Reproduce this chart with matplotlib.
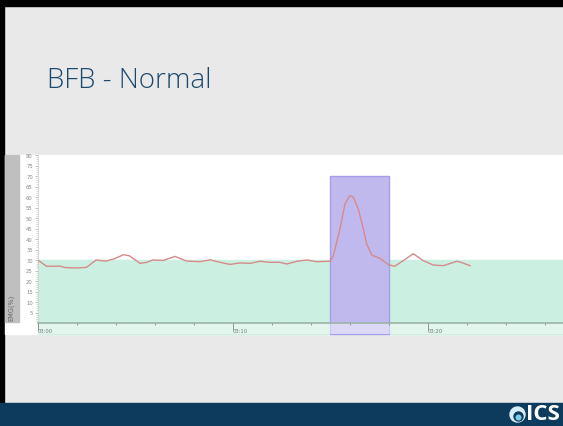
import matplotlib.pyplot as plt
from matplotlib.patches import Rectangle, Circle

# EMG trace (seconds after 03:00, percent of max)
t_sec = [0.0, 0.46, 1.14, 1.4, 2.0, 2.5, 3.0, 3.5, 3.9, 4.4, 4.7, 5.25, 5.6, 5.9,
         6.44, 7.04, 7.64, 8.32, 8.84, 9.35, 9.86, 10.37, 10.9, 11.4, 11.9, 12.4,
         12.77, 13.3, 13.8, 14.3, 15.0, 15.16, 15.5, 15.76, 16.0, 16.18, 16.44,
         16.7, 16.87, 17.13, 17.55, 17.98, 18.3, 18.75, 19.26, 19.77, 20.29, 20.8,
         21.5, 21.8, 22.17]
emg = [30.0, 27.0, 27.1, 26.4, 26.2, 26.5, 30.0, 29.5, 30.5, 32.5, 32.0, 28.4, 28.9,
       30.0, 29.8, 31.7, 29.5, 29.2, 30.1, 28.9, 27.9, 28.6, 28.4, 29.4, 28.9, 28.9,
       28.1, 29.4, 30.0, 29.2, 29.4, 32.0, 44.8, 56.7, 60.6, 60.0, 54.3, 44.8, 37.6,
       32.4, 30.8, 27.8, 27.0, 29.7, 33.0, 29.7, 27.6, 27.3, 29.4, 28.6, 27.3]

threshold = 30
event_start, event_end, event_top = 15, 18, 70
time_ticks = [0, 10, 20]
time_labels = ['03:00', '03:10', '03:20']
y_ticks = list(range(5, 85, 5))

W, H = 563, 427
fig = plt.figure(figsize=(W / 100, H / 100), dpi=100, facecolor='#e9e9e9')

# slide frame in pixel coordinates
bg = fig.add_axes([0, 0, 1, 1])
bg.set_xlim(0, W)
bg.set_ylim(H, 0)
bg.axis('off')
bg.add_patch(Rectangle((0, 0), W, 7, color='black'))
bg.add_patch(Rectangle((0, 0), 4, H, color='black'))
bg.add_patch(Rectangle((5, 156), W - 5, 179, color='white'))
bg.add_patch(Rectangle((5, 156), 14, 167, color='#bfbfbf'))
bg.add_patch(Rectangle((0, 404), W, 23, color='#0d3b5e'))
bg.text(47, 81, 'BFB - Normal', fontsize=20, family='Open Sans', fontweight='light',
        color='#1b4a6e', va='center', ha='left')
bg.text(11, 321, 'EMG(%)', fontsize=4.8, color='#666666', rotation=90,
        ha='center', va='bottom')
# logo
bg.add_patch(Circle((517.5, 415.5), 7.5, color='#d6eef8'))
bg.add_patch(Circle((518.5, 417.5), 4.5, color='#0d3b5e'))
bg.add_patch(Circle((518.5, 418.5), 2.3, color='#7fcbe8'))
bg.text(526, 415, 'ICS', fontsize=16, fontweight='bold', color='white',
        va='center', ha='left', family='Open Sans')

x0, x1 = 37.7, 563
y0, y1 = 324, 156
ax = fig.add_axes([x0 / W, (H - y0) / H, (x1 - x0) / W, (y0 - y1) / H])
ax.set_xlim(0, (x1 - x0) / 19.5)
ax.set_ylim(0, 80)
ax.patch.set_alpha(0)

strip = -(335 - y0) / 2.1
xmax = ax.get_xlim()[1]
ax.add_patch(Rectangle((0, strip), xmax, threshold - strip, color='#cbf0e1',
                       clip_on=False, zorder=1))
ax.add_patch(Rectangle((event_start, strip), event_end - event_start,
                       event_top - strip, facecolor='#c0b9ee', edgecolor='#a79de8',
                       linewidth=1, clip_on=False, zorder=2))
ax.add_patch(Rectangle((0, strip), xmax, -strip, color='white', alpha=0.45,
                       clip_on=False, zorder=3, linewidth=0))

ax.plot(t_sec, emg, color='#d68a8a', linewidth=1.0, zorder=4,
        solid_joinstyle='round')

for s in ['top', 'right']:
    ax.spines[s].set_visible(False)
ax.spines['bottom'].set_color('#9db3a9')
ax.spines['bottom'].set_linewidth(1.2)
ax.spines['bottom'].set_zorder(5)
ax.spines['left'].set_color('#d0d0d0')
ax.spines['left'].set_linewidth(0.5)
ax.xaxis.set_zorder(6)

ax.set_yticks(y_ticks)
ax.set_yticks(range(1, 81), minor=True)
ax.tick_params(axis='y', which='major', length=2.5, width=0.5, color='#aaaaaa',
               labelsize=3.8, labelcolor='#888888', pad=1)
ax.tick_params(axis='y', which='minor', length=1.2, width=0.4, color='#bbbbbb')

ax.set_xticks(time_ticks)
ax.set_xticklabels(time_labels)
ax.set_xticks(range(0, 28, 2), minor=True)
ax.tick_params(axis='x', which='major', length=5, width=0.6, color='#888888',
               labelsize=3.8, labelcolor='#777777', pad=-1.5)
ax.tick_params(axis='x', which='minor', length=1.5, width=0.6, color='#888888')
for lbl in ax.get_xticklabels():
    lbl.set_ha('left')

fig.savefig('out.png', dpi=100, facecolor=fig.get_facecolor())
